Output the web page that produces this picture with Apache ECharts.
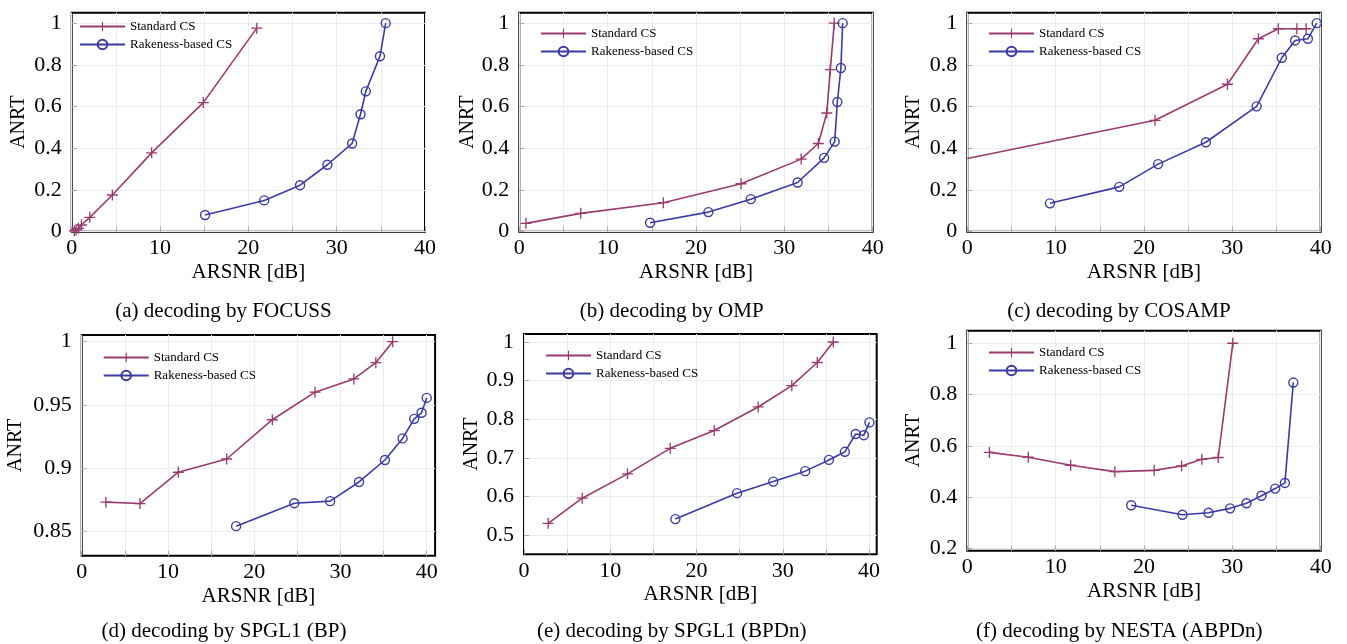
<!DOCTYPE html>
<html><head><meta charset="utf-8">
<script src="https://cdn.jsdelivr.net/npm/echarts@6/dist/echarts.min.js"></script>
<style>html,body{margin:0;padding:0;background:#fff}#c{width:1347px;height:644px}</style>
</head><body><div id="c"></div>
<script>
// ---------- DATA ----------
const seriesNames = ['Standard CS', 'Rakeness-based CS'];
const captions = ['(a) decoding by FOCUSS', '(b) decoding by OMP', '(c) decoding by COSAMP',
                  '(d) decoding by SPGL1 (BP)', '(e) decoding by SPGL1 (BPDn)', '(f) decoding by NESTA (ABPDn)'];
const xAxisName = 'ARSNR [dB]';
const yAxisName = 'ANRT';

const xTickLabels = [0, 10, 20, 30, 40];
const xTickMarks = [0, 5, 10, 15, 20, 25, 30, 35, 40];
const xGridLines = [10, 20, 30, 40];

const yTicksABC = [0, 0.2, 0.4, 0.6, 0.8, 1];
const yTicksD = [0.85, 0.9, 0.95, 1];
const yTicksE = [0.5, 0.6, 0.7, 0.8, 0.9, 1];
const yTicksF = [0.2, 0.4, 0.6, 0.8, 1];

// (a) FOCUSS
const stdA = [[0.3,0.004],[0.5,0.009],[0.75,0.016],[1.1,0.032],[2.05,0.069],[4.6,0.176],[9.05,0.378],[14.9,0.619],[20.95,0.976]];
const rakA = [[15.1,0.08],[21.8,0.15],[25.85,0.223],[28.95,0.321],[31.75,0.423],[32.7,0.563],[33.3,0.673],[34.9,0.841],[35.55,1.0]];
// (b) OMP
const stdB = [[0.75,0.04],[6.95,0.088],[16.3,0.139],[25.1,0.23],[31.9,0.348],[33.85,0.423],[34.8,0.569],[35.2,0.777],[35.65,1.0]];
const rakB = [[14.8,0.043],[21.4,0.094],[26.2,0.156],[31.5,0.236],[34.5,0.354],[35.7,0.432],[36.0,0.622],[36.4,0.785],[36.6,1.0]];
// (c) COSAMP  (first standard point sits on the left frame, no marker drawn)
const stdC = [[0,0.351],[21.25,0.534],[29.45,0.707],[32.95,0.925],[35.2,0.973],[37.3,0.973],[38.35,0.973]];
const rakC = [[9.35,0.136],[17.2,0.215],[21.6,0.324],[27.0,0.429],[32.75,0.601],[35.6,0.834],[37.1,0.917],[38.55,0.925],[39.55,1.0]];
// (d) SPGL1 (BP)
const stdD = [[2.8,0.8729],[6.75,0.8718],[11.2,0.8966],[16.8,0.9071],[22.1,0.9382],[27.05,0.96],[31.55,0.9705],[34.1,0.9834],[36.05,1.0]];
const rakD = [[17.9,0.8539],[24.65,0.8721],[28.8,0.8737],[32.15,0.8889],[35.15,0.9063],[37.2,0.9234],[38.55,0.9389],[39.4,0.9437],[40.0,0.9555]];
// (e) SPGL1 (BPDn)
const stdE = [[2.8,0.531],[6.75,0.596],[12.0,0.659],[16.95,0.725],[22.05,0.771],[27.15,0.832],[31.05,0.887],[34.0,0.947],[35.85,1.0]];
const rakE = [[17.55,0.542],[24.7,0.609],[28.9,0.639],[32.6,0.666],[35.35,0.695],[37.2,0.716],[38.45,0.762],[39.4,0.759],[40.05,0.792]];
// (f) NESTA (ABPDn)
const stdF = [[2.5,0.575],[6.9,0.556],[11.7,0.525],[16.7,0.5],[21.15,0.505],[24.25,0.522],[26.55,0.548],[28.4,0.555],[30.05,1.0]];
const rakF = [[18.55,0.369],[24.35,0.332],[27.3,0.34],[29.75,0.357],[31.6,0.377],[33.3,0.406],[34.85,0.434],[35.95,0.456],[36.9,0.847]];

// ---------- LAYOUT / STYLE ----------
const FONT = 'Liberation Serif';
const C_STD = '#9a3a6e';
const C_RAK = '#3b3ba6';
const PLUS = 'path://M4.4,0H5.6V4.4H10V5.6H5.6V10H4.4V5.6H0V4.4H4.4Z';

const panels = [
  {grid:{left:71.7, top:12.7, width:353.3, height:219}, x:[0,40], y:[0,1.05], yt:yTicksABC, std:stdA, rak:rakA, nameGapY:43, leg:{left:79, top:20}, cap:[223.5,311]},
  {grid:{left:519.3, top:12.7, width:353.4, height:219}, x:[0,40], y:[0,1.05], yt:yTicksABC, std:stdB, rak:rakB, nameGapY:42, leg:{left:540, top:27}, cap:[671.7,311]},
  {grid:{left:967.3, top:12.7, width:353.4, height:219}, x:[0,40], y:[0,1.05], yt:yTicksABC, std:stdC, rak:rakC, nameGapY:44, leg:{left:988, top:27}, cap:[1119,311], hideFirstStd:true},
  {grid:{left:81.7, top:335, width:353.4, height:220.7}, x:[0,40.97], y:[0.8305,1.0053], yt:yTicksD, std:stdD, rak:rakD, nameGapY:56, leg:{left:102.7, top:351}, cap:[224,631]},
  {grid:{left:524, top:334, width:352.7, height:220.3}, x:[0,40.89], y:[0.4509,1.0207], yt:yTicksE, std:stdE, rak:rakE, nameGapY:42, leg:{left:545, top:349}, cap:[671.7,631]},
  {grid:{left:967.3, top:330.7, width:353.4, height:220}, x:[0,40], y:[0.192,1.049], yt:yTicksF, std:stdF, rak:rakF, nameGapY:44, leg:{left:988, top:346}, cap:[1119.3,631]}
];

const grids = [], xAxes = [], yAxes = [], series = [], legends = [], graphics = [];
panels.forEach((p, i) => {
  grids.push(Object.assign({show:true, borderColor:'#000', borderWidth:2, backgroundColor:'rgba(0,0,0,0)', containLabel:false}, p.grid));
  xAxes.push({
    type:'value', gridIndex:i, min:p.x[0], max:p.x[1],
    name:xAxisName, nameLocation:'middle', nameGap:30,
    nameTextStyle:{fontFamily:FONT, fontSize:21, color:'#000'},
    axisLine:{show:false},
    axisTick:{show:true, inside:true, length:5, customValues:xTickMarks, lineStyle:{color:'#a8a8a8', width:1}},
    axisLabel:{show:true, customValues:xTickLabels, margin:6, fontFamily:FONT, fontSize:22, color:'#000'},
    splitLine:{show:true, customValues:xGridLines, lineStyle:{color:'#ececec', width:1}}
  });
  yAxes.push({
    type:'value', gridIndex:i, min:p.y[0], max:p.y[1],
    name:yAxisName, nameLocation:'middle', nameGap:p.nameGapY, nameRotate:90,
    nameTextStyle:{fontFamily:FONT, fontSize:20, color:'#000'},
    axisLine:{show:false},
    axisTick:{show:true, inside:true, length:5, customValues:p.yt, lineStyle:{color:'#a8a8a8', width:1}},
    axisLabel:{show:true, customValues:p.yt, margin:10, fontFamily:FONT, fontSize:22, color:'#000'},
    splitLine:{show:true, customValues:p.yt, lineStyle:{color:'#ececec', width:1}}
  });
  const stdData = p.std.map((d, k) => (p.hideFirstStd && k === 0) ? {value:d, symbol:'none'} : d);
  series.push({
    type:'line', name:seriesNames[0], xAxisIndex:i, yAxisIndex:i, data:stdData,
    symbol:PLUS, symbolSize:11, clip:true, z:3,
    lineStyle:{color:C_STD, width:1.6},
    itemStyle:{color:C_STD, borderWidth:0},
    emphasis:{disabled:true}, animation:false
  });
  series.push({
    type:'line', name:seriesNames[1], xAxisIndex:i, yAxisIndex:i, data:p.rak,
    symbol:'circle', symbolSize:9, clip:true, z:3,
    lineStyle:{color:C_RAK, width:1.6},
    itemStyle:{color:'rgba(255,255,255,0)', borderColor:C_RAK, borderWidth:1.4},
    emphasis:{disabled:true}, animation:false
  });
  legends.push({
    data:seriesNames, orient:'vertical', left:p.leg.left, top:p.leg.top, padding:0,
    itemWidth:45, itemHeight:12, itemGap:5, selectedMode:false,
    textStyle:{fontFamily:FONT, fontSize:13, color:'#000'}
  });
  graphics.push({
    type:'text', x:p.cap[0], y:p.cap[1],
    style:{text:captions[i], font:'21px "' + FONT + '"', fill:'#000', textAlign:'center', textVerticalAlign:'middle'}
  });
});

const chart = echarts.init(document.getElementById('c'), null, {renderer:'canvas'});
chart.setOption({
  animation:false, backgroundColor:'#fff',
  grid:grids, xAxis:xAxes, yAxis:yAxes, series:series, legend:legends, graphic:graphics,
  tooltip:{show:false}
});
</script></body></html>
